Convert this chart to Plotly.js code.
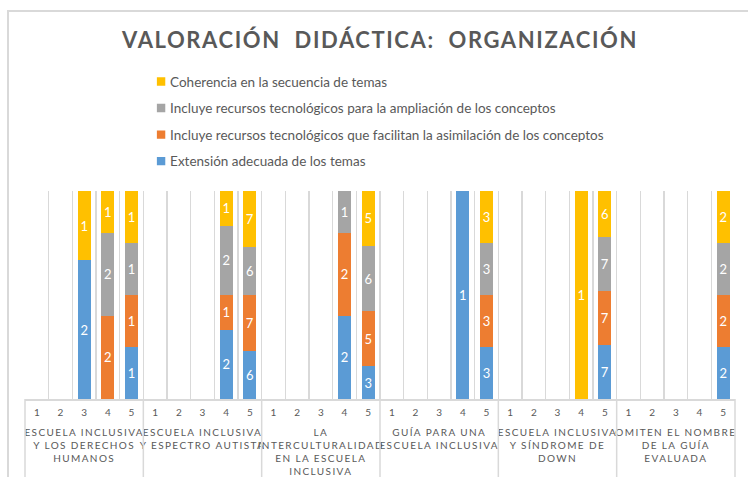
<!DOCTYPE html>
<html>
<head>
<meta charset="utf-8">
<script src="https://cdn.plot.ly/plotly-3.0.1.min.js"></script>
<style>
  html, body { margin: 0; padding: 0; background: #fff; }
  #wrap { position: relative; width: 748px; height: 477px; overflow: hidden; }
  #chart { position: absolute; left: 0; top: 0; width: 748px; height: 477px; }
  #border { position: absolute; left: 7px; top: 10px; width: 760px; height: 480px;
            border-top: 2px solid #d9d9d9; border-left: 2px solid #d9d9d9; pointer-events: none; }
  .gtitle { letter-spacing: 1.6px; }
  .xtick2 text { letter-spacing: 1.4px; }
  g.xtick { transform: translateY(3px); }
  g.xtick2 { transform: translateY(9px); }
  .legendpoints path { transform: translate(31px, 0px) scale(0.7); }
</style>
</head>
<body>
<div id="wrap">
  <div id="chart"></div>
  <div id="border"></div>
</div>
<script>
// Groups (guides evaluated) and rating categories
const groups = [
  "ESCUELA INCLUSIVA<br>Y LOS DERECHOS<br>HUMANOS",
  "ESCUELA INCLUSIVA<br>Y ESPECTRO AUTISTA",
  "LA<br>INTERCULTURALIDAD<br>EN LA ESCUELA<br>INCLUSIVA",
  "GUÍA PARA UNA<br>ESCUELA INCLUSIVA",
  "ESCUELA INCLUSIVA<br>Y SÍNDROME DE<br>DOWN",
  "OMITEN EL NOMBRE<br>DE LA GUÍA<br>EVALUADA"
];
const ratings = ["1", "2", "3", "4", "5"];

// Series names (bottom to top of stack)
const seriesNames = [
  "Extensión adecuada de los temas",
  "Incluye recursos tecnológicos que facilitan la asimilación de los conceptos",
  "Incluye recursos tecnológicos para la ampliación de los conceptos",
  "Coherencia en la secuencia de temas"
];
const seriesColors = ["#5B9BD5", "#ED7D31", "#A5A5A5", "#FFC000"];

// Counts per group, ratings 1..5 (null = no responses)
const extension = [
  null, null, 2, null, 1,
  null, null, null, 2, 6,
  null, null, null, 2, 3,
  null, null, null, 1, 3,
  null, null, null, null, 7,
  null, null, null, null, 2
];
const asimilacion = [
  null, null, null, 2, 1,
  null, null, null, 1, 7,
  null, null, null, 2, 5,
  null, null, null, null, 3,
  null, null, null, null, 7,
  null, null, null, null, 2
];
const ampliacion = [
  null, null, null, 2, 1,
  null, null, null, 2, 6,
  null, null, null, 1, 6,
  null, null, null, null, 3,
  null, null, null, null, 7,
  null, null, null, null, 2
];
const coherencia = [
  null, null, 1, 1, 1,
  null, null, null, 1, 7,
  null, null, null, null, 5,
  null, null, null, null, 3,
  null, null, null, 1, 6,
  null, null, null, null, 2
];

const xGroup = [], xRating = [];
groups.forEach(g => ratings.forEach(r => { xGroup.push(g); xRating.push(r); }));

const allSeries = [extension, asimilacion, ampliacion, coherencia];
const FONT = "Lato, 'Open Sans', sans-serif";

const traces = allSeries.map((vals, i) => ({
  type: "bar",
  name: seriesNames[i],
  legendgroup: "g" + i,
  legendrank: allSeries.length - i,
  x: [xGroup, xRating],
  y: vals,
  text: vals.map(v => v == null ? "" : String(v)),
  textposition: "inside",
  insidetextanchor: "middle",
  textangle: 0,
  constraintext: "none",
  textfont: { family: FONT, size: 13, color: "#ffffff" },
  marker: { color: seriesColors[i], line: { width: 0 } },
  hoverinfo: "skip"
}));

// Group dividers below the axis (one at each group boundary)
const dividerShapes = [];
for (let k = 0; k <= groups.length; k++) {
  dividerShapes.push({
    type: "line", xref: "paper", yref: "paper",
    x0: k / groups.length, x1: k / groups.length,
    y0: 0, y1: -0.4,
    line: { color: "#d9d9d9", width: 1.5 }
  });
}

const layout = {
  width: 748,
  height: 477,
  margin: { l: 25, r: 13, t: 191, b: 78 },
  paper_bgcolor: "rgba(0,0,0,0)",
  plot_bgcolor: "rgba(0,0,0,0)",
  barmode: "stack",
  barnorm: "percent",
  bargap: 0.45,
  font: { family: FONT, color: "#595959" },
  title: {
    text: "<b>VALORACIÓN  DIDÁCTICA:  ORGANIZACIÓN</b>",
    font: { family: FONT, size: 22, color: "#595959" },
    x: 0.508, xanchor: "center",
    y: 0.915, yanchor: "middle", yref: "container"
  },
  showlegend: true,
  legend: {
    x: 0.148, xanchor: "left",
    y: 1.6, yanchor: "top",
    traceorder: "grouped",
    tracegroupgap: 6,
    font: { family: FONT, size: 13.5, color: "#595959" },
    bgcolor: "rgba(0,0,0,0)"
  },
  shapes: dividerShapes,
  xaxis: {
    type: "multicategory",
    tickson: "boundaries",
    showgrid: true,
    gridcolor: "#d9d9d9",
    gridwidth: 1.5,
    showline: true,
    linecolor: "#d9d9d9",
    linewidth: 1.5,
    ticks: "",
    showdividers: false,
    tickfont: { family: FONT, size: 10, color: "#595959" }
  },
  yaxis: {
    range: [0, 100],
    showgrid: false,
    zeroline: false,
    showticklabels: false,
    showline: false,
    ticks: ""
  }
};

Plotly.newPlot("chart", traces, layout, { displayModeBar: false, staticPlot: true });
</script>
</body>
</html>
